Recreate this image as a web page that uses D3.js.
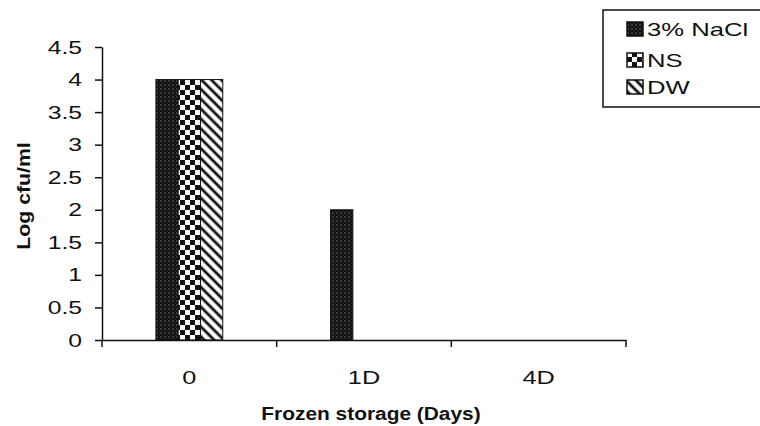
<!DOCTYPE html>
<html>
<head>
<meta charset="utf-8">
<script src="https://cdn.jsdelivr.net/npm/d3@7"></script>
<style>
body { margin: 0; background: #fff; }
svg { display: block; font-family: "Liberation Sans", Arial, sans-serif; }
</style>
</head>
<body>
<svg></svg>
<script>
var categories = ["0", "1D", "4D"];
var series = ["3% NaCl", "NS", "DW"];
var nacl = [4, 2, 0];
var ns = [4, 0, 0];
var dw = [4, 0, 0];
var yTicks = [0, 0.5, 1, 1.5, 2, 2.5, 3, 3.5, 4, 4.5];

var svgWidth = 760, svgHeight = 426;
var svg = d3.select("svg")
  .attr("width", svgWidth)
  .attr("height", svgHeight);

svg.append("rect").attr("width", svgWidth).attr("height", svgHeight).attr("fill", "#fff");

// the scanned figure has wide lettering, so stretch text along its run
function widen(sel, k) {
  sel.each(function () {
    var w = this.getComputedTextLength();
    d3.select(this).attr("textLength", w * k).attr("lengthAdjust", "spacingAndGlyphs");
  });
}

// patterns
var defs = svg.append("defs");
var pNacl = defs.append("pattern").attr("id", "p0")
  .attr("width", 4).attr("height", 4).attr("patternUnits", "userSpaceOnUse");
pNacl.append("rect").attr("width", 4).attr("height", 4).attr("fill", "#111");
pNacl.append("circle").attr("cx", 1).attr("cy", 1).attr("r", 0.7).attr("fill", "#888");
pNacl.append("circle").attr("cx", 3).attr("cy", 3).attr("r", 0.5).attr("fill", "#555");

var pNs = defs.append("pattern").attr("id", "p1")
  .attr("width", 10).attr("height", 10).attr("patternUnits", "userSpaceOnUse");
pNs.append("rect").attr("width", 10).attr("height", 10).attr("fill", "#fff");
pNs.append("rect").attr("width", 5).attr("height", 5).attr("fill", "#111");
pNs.append("rect").attr("x", 5).attr("y", 5).attr("width", 5).attr("height", 5).attr("fill", "#111");

var pDw = defs.append("pattern").attr("id", "p2")
  .attr("width", 7).attr("height", 7).attr("patternUnits", "userSpaceOnUse")
  .attr("patternTransform", "rotate(-45)");
pDw.append("rect").attr("width", 7).attr("height", 7).attr("fill", "#fff");
pDw.append("line").attr("x1", 2).attr("x2", 2).attr("y1", 0).attr("y2", 7)
  .attr("stroke", "#111").attr("stroke-width", 2.8);

var fills = ["url(#p0)", "url(#p1)", "url(#p2)"];
var values = [nacl, ns, dw];

// scales
var x0 = d3.scaleBand().domain(categories).range([102, 626]);
var x1 = d3.scaleBand().domain(series).range([0, x0.bandwidth()])
  .paddingInner(0).paddingOuter(2.42);
var y = d3.scaleLinear().domain([0, 4.5]).range([340, 47]);

// y axis
var yAxis = svg.append("g")
  .attr("transform", "translate(102,0)")
  .call(d3.axisLeft(y).tickValues(yTicks).tickSize(7).tickSizeOuter(0).tickPadding(13)
    .tickFormat(function (d) { return d; }));
yAxis.selectAll("text").attr("font-size", "19px").attr("fill", "#111")
  .attr("font-family", "Liberation Sans, Arial, sans-serif");
yAxis.selectAll("line, path").attr("stroke", "#111").attr("stroke-width", 1.5);
widen(yAxis.selectAll("text"), 1.3);

// bars
var rows = [];
categories.forEach(function (c, i) {
  series.forEach(function (s, j) {
    rows.push({ cat: c, ser: s, idx: j, v: values[j][i] });
  });
});

svg.selectAll("rect.bar")
  .data(rows)
  .enter()
  .append("rect")
  .attr("class", "bar")
  .attr("x", function (d) { return x0(d.cat) + x1(d.ser); })
  .attr("y", function (d) { return y(d.v); })
  .attr("width", x1.bandwidth())
  .attr("height", function (d) { return y(0) - y(d.v); })
  .attr("fill", function (d) { return fills[d.idx]; })
  .attr("stroke", "#111")
  .attr("stroke-width", 1);

// x axis: labels at centres, ticks at band edges
var xAxis = svg.append("g")
  .attr("transform", "translate(0,340)")
  .call(d3.axisBottom(x0).tickSize(0).tickSizeOuter(0).tickPadding(31));
xAxis.selectAll("text").attr("font-size", "19px").attr("fill", "#111")
  .attr("font-family", "Liberation Sans, Arial, sans-serif");
xAxis.select("path").attr("stroke", "#111").attr("stroke-width", 1.5);
widen(xAxis.selectAll("text"), 1.33);

var edges = categories.map(function (c) { return x0(c); }).concat([x0.range()[1]]);
svg.selectAll("line.xtick")
  .data(edges)
  .enter()
  .append("line")
  .attr("class", "xtick")
  .attr("x1", function (d) { return d; })
  .attr("x2", function (d) { return d; })
  .attr("y1", 340)
  .attr("y2", 347)
  .attr("stroke", "#111")
  .attr("stroke-width", 1.5);

// axis titles
var xTitle = svg.append("text")
  .attr("x", 371).attr("y", 420)
  .attr("text-anchor", "middle")
  .attr("font-size", "18px").attr("font-weight", "bold").attr("fill", "#111")
  .text("Frozen storage (Days)");
widen(xTitle, 1.16);

var yTitle = svg.append("text")
  .attr("transform", "translate(30,196) rotate(-90)")
  .attr("text-anchor", "middle")
  .attr("font-size", "18px").attr("font-weight", "bold").attr("fill", "#111")
  .text("Log cfu/ml");
widen(yTitle, 1.18);

// legend
var legend = svg.append("g");
legend.append("rect")
  .attr("x", 603).attr("y", 10).attr("width", 170).attr("height", 97)
  .attr("fill", "#fff").attr("stroke", "#111").attr("stroke-width", 1.5);

var legY = [36, 67, 94];
var items = legend.selectAll("g.item")
  .data(series)
  .enter()
  .append("g")
  .attr("class", "item")
  .attr("transform", function (d, i) { return "translate(627," + legY[i] + ")"; });
items.append("rect")
  .attr("x", 0).attr("y", -14).attr("width", 16).attr("height", 14)
  .attr("fill", function (d, i) { return fills[i]; })
  .attr("stroke", "#111").attr("stroke-width", 1.5);
var legText = items.append("text")
  .attr("x", 20).attr("y", 0)
  .attr("font-size", "19px").attr("fill", "#111")
  .text(function (d) { return d; });
widen(legText, 1.35);
</script>
</body>
</html>
